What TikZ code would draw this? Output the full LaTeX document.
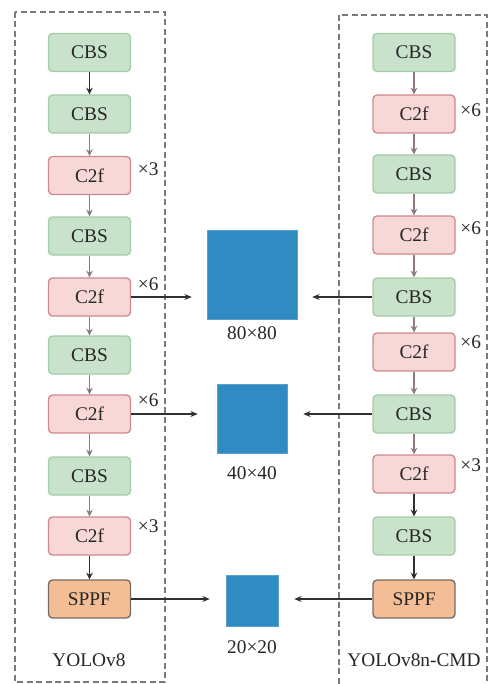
\documentclass[tikz,border=0pt]{standalone}
\usepackage{fontspec}
\setmainfont{Liberation Serif}
\usetikzlibrary{arrows.meta}

\definecolor{cbsfill}{HTML}{C9E2CB}
\definecolor{cbsdraw}{HTML}{A2CCA5}
\definecolor{cffill}{HTML}{F8D7D7}
\definecolor{cfdraw}{HTML}{CC8A8C}
\definecolor{spfill}{HTML}{F3BE95}
\definecolor{spdraw}{HTML}{746A63}
\definecolor{featblue}{HTML}{2F8BC1}
\definecolor{framegrey}{HTML}{7A7A7A}
\definecolor{flowmauve}{HTML}{8E7A82}
\definecolor{flowdark}{HTML}{303030}

\tikzset{
  txt/.style={font=\fontsize{14.5}{17}\selectfont, text=black!85},
  block/.style={txt, rounded corners=3pt, line width=1pt,
    minimum width=61.5pt, minimum height=28.5pt, inner sep=0pt},
  cbs/.style={block, fill=cbsfill, draw=cbsdraw},
  ctwof/.style={block, fill=cffill, draw=cfdraw},
  sppf/.style={block, fill=spfill, draw=spdraw},
  feature/.style={fill=featblue, draw=featblue!80!white, line width=0.4pt, inner sep=0pt},
  frame/.style={draw=framegrey, line width=1.1pt, dash pattern=on 4.5pt off 2.6pt},
  flow/.style={line width=1pt, -{Stealth[length=5pt,width=5pt]}},
  soft/.style={flow, draw=flowmauve, fill=flowmauve},
  hard/.style={flow, draw=flowdark, fill=flowdark},
  tap/.style={line width=0.8pt, draw=flowdark, -{Stealth[length=5.5pt,width=4.5pt]}},
  rep/.style={txt, inner sep=0pt},
}

\begin{document}
\begin{tikzpicture}[x=0.75pt,y=-0.75pt]
\useasboundingbox (0,0) rectangle (489,684);

% backbone frames
\draw[frame] (15,12) rectangle (165,682);
\draw[frame] (339,15) rectangle (487,700);

% YOLOv8 backbone
\node[cbs]   (l1)  at (89.5,52.5) {CBS};
\node[cbs]   (l2)  at (89.5,114)  {CBS};
\node[ctwof] (l3)  at (89.5,175.5){C2f};
\node[cbs]   (l4)  at (89.5,236)  {CBS};
\node[ctwof] (l5)  at (89.5,297)  {C2f};
\node[cbs]   (l6)  at (89.5,355)  {CBS};
\node[ctwof] (l7)  at (89.5,414)  {C2f};
\node[cbs]   (l8)  at (89.5,476)  {CBS};
\node[ctwof] (l9)  at (89.5,536)  {C2f};
\node[sppf]  (l10) at (89.5,599)  {SPPF};

% YOLOv8n-CMD backbone
\node[cbs]   (r1)  at (414,52.5) {CBS};
\node[ctwof] (r2)  at (414,114)  {C2f};
\node[cbs]   (r3)  at (414,174)  {CBS};
\node[ctwof] (r4)  at (414,235)  {C2f};
\node[cbs]   (r5)  at (414,297)  {CBS};
\node[ctwof] (r6)  at (414,352)  {C2f};
\node[cbs]   (r7)  at (414,414)  {CBS};
\node[ctwof] (r8)  at (414,474)  {C2f};
\node[cbs]   (r9)  at (414,536)  {CBS};
\node[sppf]  (r10) at (414,599)  {SPPF};

% repeat counts
\node[rep] at ([xshift=12.75pt,yshift=4.9pt]l3.east) {×3};
\node[rep] at ([xshift=12.75pt,yshift=9.4pt]l5.east) {×6};
\node[rep] at ([xshift=12.75pt,yshift=10.5pt]l7.east) {×6};
\node[rep] at ([xshift=12.75pt,yshift=7.5pt]l9.east) {×3};
\node[rep] at ([xshift=11.25pt,yshift=3pt]r2.east) {×6};
\node[rep] at ([xshift=11.25pt,yshift=5.2pt]r4.east) {×6};
\node[rep] at ([xshift=11.25pt,yshift=7.5pt]r6.east) {×6};
\node[rep] at ([xshift=11.25pt,yshift=6.8pt]r8.east) {×3};

% vertical flow
\draw[hard] (l1) -- (l2);
\draw[soft] (l2) -- (l3);
\draw[soft] (l3) -- (l4);
\draw[soft] (l4) -- (l5);
\draw[soft] (l5) -- (l6);
\draw[soft] (l6) -- (l7);
\draw[soft] (l7) -- (l8);
\draw[soft] (l8) -- (l9);
\draw[hard] (l9) -- (l10);

\draw[soft] (r1) -- (r2);
\draw[soft] (r2) -- (r3);
\draw[soft] (r3) -- (r4);
\draw[soft] (r4) -- (r5);
\draw[soft] (r5) -- (r6);
\draw[soft] (r6) -- (r7);
\draw[soft] (r7) -- (r8);
\draw[hard] (r8) -- (r9);
\draw[hard] (r9) -- (r10);

% feature maps
\node[feature, minimum width=67.5pt, minimum height=66.75pt] (f80) at (252,274.5) {};
\node[feature, minimum width=52.5pt, minimum height=51.75pt] (f40) at (252,418.5) {};
\node[feature, minimum width=39pt,   minimum height=38.25pt] (f20) at (252,600.5) {};

\node[txt] at (252,333) {80×80};
\node[txt] at (252,473) {40×40};
\node[txt] at (252,647) {20×20};

% taps into the feature maps
\draw[tap, shorten >=11.25pt] (l5.east) -- (f80.west |- l5.east);
\draw[tap, shorten >=11.25pt] (r5.west) -- (f80.east |- r5.west);
\draw[tap, shorten >=14.25pt] (l7.east) -- (f40.west |- l7.east);
\draw[tap, shorten >=12pt] (r7.west) -- (f40.east |- r7.west);
\draw[tap, shorten >=12pt] (l10.east) -- (f20.west |- l10.east);
\draw[tap, shorten >=12pt] (r10.west) -- (f20.east |- r10.west);

% backbone names
\node[txt] at (89,660) {YOLOv8};
\node[txt] at (414,660) {YOLOv8n-CMD};
\end{tikzpicture}
\end{document}
